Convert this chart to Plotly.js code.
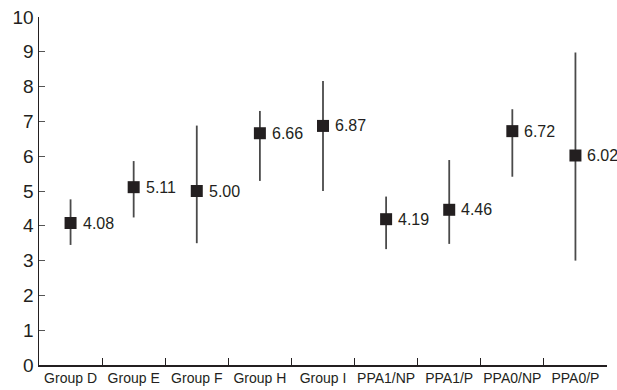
<!DOCTYPE html>
<html>
<head>
<meta charset="utf-8">
<script src="https://cdn.plot.ly/plotly-3.0.1.min.js"></script>
<style>html,body{margin:0;padding:0;background:#fff;}#chart{width:617px;height:390px;}</style>
</head>
<body>
<div id="chart"></div>
<script>
var categories = ["Group D","Group E","Group F","Group H","Group I","PPA1/NP","PPA1/P","PPA0/NP","PPA0/P"];
var means = [4.08, 5.11, 5.00, 6.66, 6.87, 4.19, 4.46, 6.72, 6.02];
var upper = [4.76, 5.86, 6.88, 7.30, 8.16, 4.84, 5.89, 7.35, 8.98];
var lower = [3.45, 4.24, 3.50, 5.29, 5.00, 3.33, 3.48, 5.41, 3.00];
var labels = ["4.08","5.11","5.00","6.66","6.87","4.19","4.46","6.72","6.02"];
var yTicks = [0,1,2,3,4,5,6,7,8,9,10];

var errPlus = upper.map(function(u,i){return u - means[i];});
var errMinus = lower.map(function(l,i){return means[i] - l;});

var ink = "#231f20";
var fontFam = "Liberation Sans, Arial, Helvetica, sans-serif";

var trace = {
  type: "scatter",
  mode: "markers",
  x: categories,
  y: means,
  marker: {symbol: "square", size: 12, color: ink},
  error_y: {type: "data", symmetric: false, array: errPlus, arrayminus: errMinus,
            color: "#4a4a4a", thickness: 1.8, width: 0},
  cliponaxis: false,
  hoverinfo: "none"
};

var annotations = categories.map(function(c, i){
  return {x: c, y: means[i], xref: "x", yref: "y", text: labels[i], showarrow: false,
          xanchor: "left", yanchor: "middle", xshift: 10,
          font: {family: fontFam, size: 16, color: ink}};
});

var layout = {
  width: 617, height: 390,
  margin: {l: 39, r: 10, t: 17, b: 25},
  paper_bgcolor: "#fff", plot_bgcolor: "#fff",
  showlegend: false,
  font: {family: fontFam, color: ink},
  annotations: annotations,
  xaxis: {
    type: "category",
    range: [-0.5, 8.5],
    showgrid: false, zeroline: false,
    showline: true, linecolor: ink, linewidth: 1.5,
    ticks: "inside", tickson: "boundaries", ticklen: 7, tickwidth: 1, tickcolor: ink,
    tickangle: 0,
    tickfont: {family: fontFam, size: 14, color: ink},
    fixedrange: true
  },
  yaxis: {
    range: [0, 10],
    tickvals: yTicks,
    showgrid: false, zeroline: false,
    showline: true, linecolor: ink, linewidth: 1.5,
    ticks: "inside", ticklen: 6, tickwidth: 1, tickcolor: "#555",
    tickfont: {family: fontFam, size: 19, color: ink},
    fixedrange: true
  }
};

Plotly.newPlot("chart", [trace], layout, {staticPlot: true, displayModeBar: false});
</script>
</body>
</html>
